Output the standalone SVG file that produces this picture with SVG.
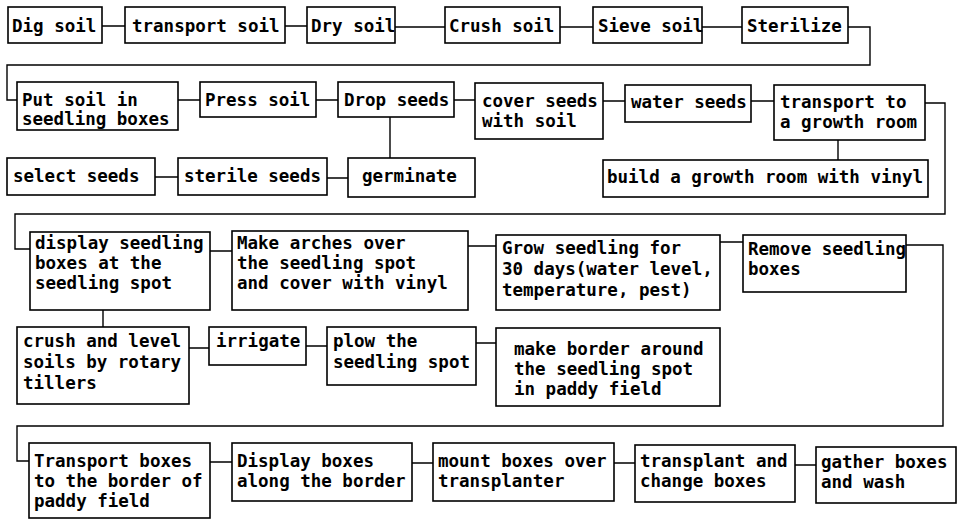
<svg xmlns="http://www.w3.org/2000/svg" width="958" height="519" viewBox="0 0 958 519">
<style>
rect{fill:#fff;stroke:#000;stroke-width:1.6}
text{font-family:"DejaVu Sans Mono","Liberation Mono",monospace;font-size:17.5px;font-weight:bold;fill:#000}
#connectors path{fill:none;stroke:#000;stroke-width:1.4}
</style>
<rect x="0" y="0" width="958" height="519" style="stroke:none"/>
<g id="connectors">
<path d="M102 26H125M285 26H307M395 27H445M560 27H593M702 27H742"/>
<path d="M848 27H870V65H7V100H17"/>
<path d="M178 100H200M316 100H338M454 100H475M603 101H625M751 101H774"/>
<path d="M390 117V158M838 140V160M155 177H178M327 178H348"/>
<path d="M925 103H945V214H15V249H30"/>
<path d="M210 251H232M468 246H496M720 242H743"/>
<path d="M103 310V327M189 348H209M306 346H327M476 343H496"/>
<path d="M906 245H943V426H17V461H29"/>
<path d="M210 462H232M412 463H433M614 463H635M795 465H816"/>
</g>
<g id="n1"><rect x="8" y="7" width="94" height="36"/><text x="12" y="32">Dig soil</text></g>
<g id="n2"><rect x="125" y="7" width="160" height="36"/><text x="132" y="32">transport soil</text></g>
<g id="n3"><rect x="307" y="7" width="88" height="36"/><text x="311" y="32">Dry soil</text></g>
<g id="n4"><rect x="445" y="7" width="115" height="36"/><text x="449" y="32">Crush soil</text></g>
<g id="n5"><rect x="593" y="7" width="109" height="36"/><text x="598" y="32">Sieve soil</text></g>
<g id="n6"><rect x="742" y="7" width="106" height="36"/><text x="747" y="32">Sterilize</text></g>
<g id="n7"><rect x="17" y="82" width="161" height="48"/><text x="22" y="106">Put soil in</text><text x="22" y="125">seedling boxes</text></g>
<g id="n8"><rect x="200" y="82" width="116" height="35"/><text x="205" y="106">Press soil</text></g>
<g id="n9"><rect x="338" y="82" width="116" height="35"/><text x="344" y="106">Drop seeds</text></g>
<g id="n10"><rect x="475" y="83" width="128" height="56"/><text x="482" y="107">cover seeds</text><text x="482" y="127">with soil</text></g>
<g id="n11"><rect x="625" y="85" width="126" height="37"/><text x="631" y="108">water seeds</text></g>
<g id="n12"><rect x="774" y="85" width="151" height="55"/><text x="780" y="108">transport to</text><text x="780" y="128">a growth room</text></g>
<g id="n13"><rect x="603" y="160" width="325" height="37"/><text x="607" y="183">build a growth room with vinyl</text></g>
<g id="n14"><rect x="7" y="158" width="148" height="37"/><text x="13" y="182">select seeds</text></g>
<g id="n15"><rect x="178" y="158" width="149" height="37"/><text x="184" y="182">sterile seeds</text></g>
<g id="n16"><rect x="348" y="158" width="127" height="39"/><text x="362" y="182">germinate</text></g>
<g id="n17"><rect x="30" y="232" width="180" height="78"/><text x="35" y="249">display seedling</text><text x="35" y="269">boxes at the</text><text x="35" y="289">seedling spot</text></g>
<g id="n18"><rect x="232" y="231" width="236" height="79"/><text x="237" y="249">Make arches over</text><text x="237" y="269">the seedling spot</text><text x="237" y="289">and cover with vinyl</text></g>
<g id="n19"><rect x="496" y="235" width="224" height="75"/><text x="502" y="254">Grow seedling for</text><text x="502" y="275">30 days(water level,</text><text x="502" y="296">temperature, pest)</text></g>
<g id="n20"><rect x="743" y="235" width="163" height="57"/><text x="748" y="255">Remove seedling</text><text x="748" y="275">boxes</text></g>
<g id="n21"><rect x="17" y="327" width="172" height="77"/><text x="23" y="347">crush and level</text><text x="23" y="368">soils by rotary</text><text x="23" y="389">tillers</text></g>
<g id="n22"><rect x="209" y="327" width="97" height="38"/><text x="216" y="347">irrigate</text></g>
<g id="n23"><rect x="327" y="327" width="149" height="58"/><text x="333" y="347">plow the</text><text x="333" y="368">seedling spot</text></g>
<g id="n24"><rect x="496" y="328" width="224" height="78"/><text x="514" y="355">make border around</text><text x="514" y="375">the seedling spot</text><text x="514" y="395">in paddy field</text></g>
<g id="n25"><rect x="29" y="443" width="181" height="75"/><text x="34" y="467">Transport boxes</text><text x="34" y="487">to the border of</text><text x="34" y="507">paddy field</text></g>
<g id="n26"><rect x="232" y="443" width="180" height="58"/><text x="237" y="467">Display boxes</text><text x="237" y="487">along the border</text></g>
<g id="n27"><rect x="433" y="443" width="181" height="58"/><text x="438" y="467">mount boxes over</text><text x="438" y="487">transplanter</text></g>
<g id="n28"><rect x="635" y="445" width="160" height="57"/><text x="640" y="467">transplant and</text><text x="640" y="487">change boxes</text></g>
<g id="n29"><rect x="816" y="447" width="140" height="56"/><text x="821" y="468">gather boxes</text><text x="821" y="488">and wash</text></g>
</svg>
